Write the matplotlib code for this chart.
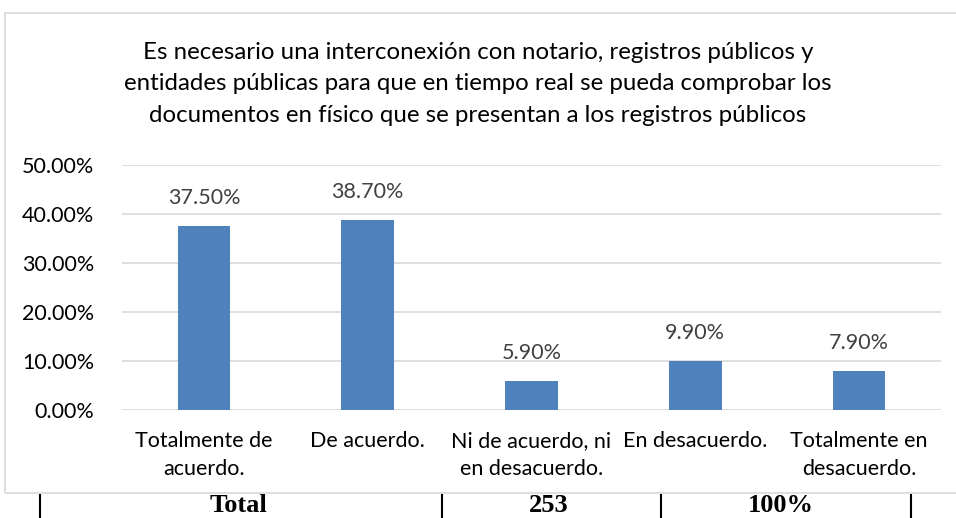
import numpy as np
import matplotlib.pyplot as plt
from matplotlib.patches import Rectangle
from matplotlib.lines import Line2D

categorias = ["Totalmente de\nacuerdo.", "De acuerdo.", "Ni de acuerdo, ni\nen desacuerdo.",
              "En desacuerdo.", "Totalmente en\ndesacuerdo."]
porcentajes = [37.5, 38.7, 5.9, 9.9, 7.9]
yticks = [0, 10, 20, 30, 40, 50]
titulo = ("Es necesario una interconexión con notario, registros públicos y\n"
          "entidades públicas para que en tiempo real se pueda comprobar los\n"
          "documentos en físico que se presentan a los registros públicos")
tabla = ["Total", "253", "100%"]

plt.rcParams['font.family'] = ['Lato', 'DejaVu Sans']

W, H = 956, 518
fig = plt.figure(figsize=(W / 100, H / 100), dpi=100)

# chart frame
fig.patches.append(Rectangle((5 / W, 1 - 493 / H), 960 / W, 480 / H, transform=fig.transFigure,
                             facecolor='none', edgecolor='#D9D9D9', linewidth=1.2, zorder=0))

ax = fig.add_axes([122 / W, 1 - 410 / H, 819 / W, 245 / H])
x = np.arange(len(categorias))
bars = ax.bar(x, porcentajes, width=0.32, color='#4F81BD', zorder=3)
ax.bar_label(bars, labels=[f"{v:.2f}%" for v in porcentajes], padding=13,
             fontsize=15.5, color='#404040')
ax.set_xlim(-0.5, len(categorias) - 0.5)
ax.set_ylim(0, 50)
ax.set_yticks(yticks)
ax.set_yticklabels([f"{v:.2f}%" for v in yticks], fontsize=15.5)
ax.set_xticks(x)
ax.set_xticklabels(categorias, fontsize=15.5, linespacing=1.5)
ax.tick_params(length=0)
ax.tick_params(axis='y', pad=20)
ax.tick_params(axis='x', pad=15)
ax.grid(axis='y', color='#D9D9D9', linewidth=1.2, zorder=0)
for s in ax.spines.values():
    s.set_visible(False)
ax.set_facecolor('none')

fig.text(0.5, 1 - 84 / H, titulo, ha='center', va='center', fontsize=17.3,
         linespacing=1.6, color='#000000')

# table row below chart
for px in [40, 442, 661, 911]:
    fig.add_artist(Line2D([px / W, px / W], [0, 1 - 495 / H], transform=fig.transFigure,
                          color='black', linewidth=1.5))
for txt, px in zip(tabla, [238, 549, 781]):
    fig.text(px / W, 1 - 506 / H, txt, ha='center', va='center', fontsize=19,
             fontweight='bold', family='Liberation Serif')

fig.savefig('out.png', dpi=100)
